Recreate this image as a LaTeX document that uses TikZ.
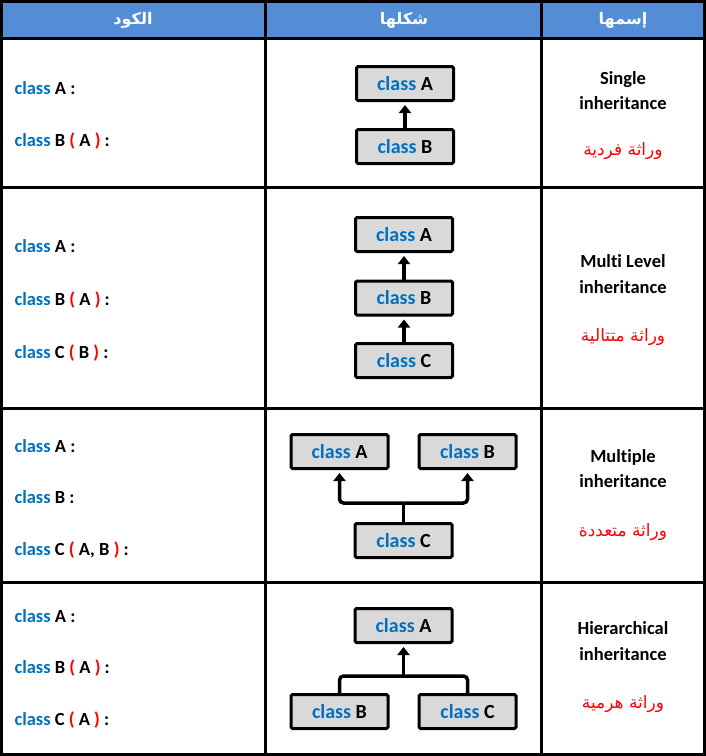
\documentclass[tikz,border=0pt]{standalone}
\usepackage{fontspec}
\setmainfont{Carlito}[Ligatures=NoCommon]
\newfontfamily\arabicfont[Script=Arabic]{DejaVu Sans}
\TeXXeTstate=1
\usetikzlibrary{arrows.meta}

\definecolor{headblue}{RGB}{83,141,213}
\definecolor{kwblue}{RGB}{0,112,192}
\definecolor{boxgray}{RGB}{217,217,217}
\newcommand{\kw}{\textcolor{kwblue}{class}}
\newcommand{\pr}[1]{\textcolor{red}{#1}}

\begin{document}
\begin{tikzpicture}[x=1pt, y=-1pt,
grid/.style={black, line width=3pt},
cls/.style={draw=black, line width=3pt, fill=boxgray, rounded corners=1.5pt,
minimum width=97pt, minimum height=34pt, inner sep=0pt,
font=\fontsize{20}{22}\selectfont\bfseries},
link/.style={black, line width=3.5pt, rounded corners=4pt},
up/.style={link, -{Triangle[width=12pt,length=8pt]}, shorten >=3pt},
code/.style={anchor=base west, font=\fontsize{18.5}{20}\selectfont\bfseries},
kind/.style={anchor=base, font=\fontsize{18.5}{20}\selectfont\bfseries},
arkind/.style={anchor=base, text=red, font=\arabicfont\fontsize{17}{20}\selectfont},
head/.style={text=white, font=\arabicfont\fontsize{16}{20}\selectfont\bfseries}]

\useasboundingbox (0,0) rectangle (706,756);
\pgfmathsetmacro{\xcode}{11}
\pgfmathsetmacro{\xkind}{623}

% TABLE
\fill[headblue] (0,0) rectangle (706,38);
\draw[grid] (1.5,1.5) rectangle (704.5,754.5);
\foreach \y in {38,187.5,408,582.5}{
    \draw[grid] (0,\y) -- (706,\y);
}
\foreach \x in {265.5,541.5}{
    \draw[grid] (\x,0) -- (\x,756);
}

\node[head] (hcode) at (133,20) {\beginR الكود\endR};
\node[head] (hshape) at (404,20) {\beginR شكلها\endR};
\node[head] (hkind) at (\xkind,20) {\beginR إسمها\endR};

% single
\node[code] (k1a) at (\xcode,94) {\kw\ A :};
\node[code] (k1b) at (\xcode,146) {\kw\ B \pr{(} A \pr{)} :};
\node[cls] (a1) at (405,83.5) {\kw\ A};
\node[cls] (b1) at (405,146.5) {\kw\ B};
\draw[up] (b1.north) -- (a1.south);
\node[kind] (n1a) at (\xkind,84) {Single};
\node[kind] (n1b) at (\xkind,109.5) {inheritance};
\node[arkind] (n1c) at (\xkind,155) {\beginR وراثة فردية\endR};

% multi level
\node[code] (k2a) at (\xcode,252) {\kw\ A :};
\node[code] (k2b) at (\xcode,305) {\kw\ B \pr{(} A \pr{)} :};
\node[code] (k2c) at (\xcode,358) {\kw\ C \pr{(} B \pr{)} :};
\node[cls] (a2) at (404,234.5) {\kw\ A};
\node[cls] (b2) at (404,298) {\kw\ B};
\node[cls] (c2) at (404,360.5) {\kw\ C};
\draw[up] (b2.north) -- (a2.south);
\draw[up] (c2.north) -- (b2.south);
\node[kind] (n2a) at (\xkind,267) {Multi Level};
\node[kind] (n2b) at (\xkind,293) {inheritance};
\node[arkind] (n2c) at (\xkind,341) {\beginR وراثة متتالية\endR};

% multiple
\node[code] (k3a) at (\xcode,452) {\kw\ A :};
\node[code] (k3b) at (\xcode,503.5) {\kw\ B :};
\node[code] (k3c) at (\xcode,555) {\kw\ C \pr{(} A, B \pr{)} :};
\node[cls] (a3) at (339.5,451.5) {\kw\ A};
\node[cls] (b3) at (467.5,451.5) {\kw\ B};
\node[cls] (c3) at (403.5,540.5) {\kw\ C};
\coordinate (j3) at (403.5,503);
\draw[link] (c3.north) -- (j3);
\draw[up] (j3) -| (a3.south);
\draw[up] (j3) -| (b3.south);
\node[kind] (n3a) at (\xkind,462) {Multiple};
\node[kind] (n3b) at (\xkind,487.5) {inheritance};
\node[arkind] (n3c) at (\xkind,536) {\beginR وراثة متعددة\endR};

% hierarchical
\node[code] (k4a) at (\xcode,622) {\kw\ A :};
\node[code] (k4b) at (\xcode,673.5) {\kw\ B \pr{(} A \pr{)} :};
\node[code] (k4c) at (\xcode,725) {\kw\ C \pr{(} A \pr{)} :};
\node[cls] (a4) at (403.5,625.5) {\kw\ A};
\node[cls] (b4) at (339.5,711.5) {\kw\ B};
\node[cls] (c4) at (467.5,711.5) {\kw\ C};
\coordinate (j4) at (403.5,676);
\draw[link] (b4.north) |- (j4) -| (c4.north);
\draw[up] (j4) -- (a4.south);
\node[kind] (n4a) at (\xkind,634) {Hierarchical};
\node[kind] (n4b) at (\xkind,660) {inheritance};
\node[arkind] (n4c) at (\xkind,708) {\beginR وراثة هرمية\endR};

\end{tikzpicture}
\end{document}
